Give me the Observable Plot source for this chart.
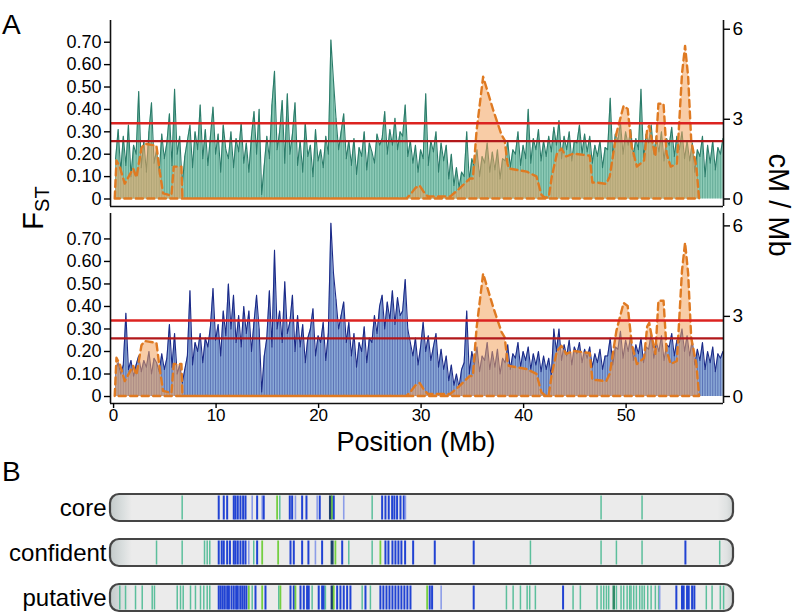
<!DOCTYPE html>
<html><head><meta charset="utf-8">
<script src="https://cdn.jsdelivr.net/npm/d3@7"></script>
<script src="https://cdn.jsdelivr.net/npm/@observablehq/plot@0.6"></script>
<style>
body{margin:0;background:#fff;}
#page{position:relative;width:796px;height:614px;overflow:hidden;font-family:"Liberation Sans",Arial,sans-serif;}
#page > svg{position:absolute;left:0;margin:0;}
</style></head><body><div id="page"></div>
<script>
// ---------- data ----------
const fstStart = 0.2, fstStep = 0.25;   // Mb grid of the FST windows
const fstTop = [0.18,0.31,0.12,0.28, 0.15,0.33,0.10,0.24, 0.20,0.48,0.14,0.26, 0.12,0.30,0.43,0.16, 0.22,0.11,0.29,0.18, 0.25,0.38,0.15,0.49, 0.20,0.28,0.06,0.19, 0.26,0.33,0.14,0.30, 0.22,0.42,0.18,0.31, 0.15,0.28,0.41,0.20,
 0.29,0.12,0.33,0.22, 0.18,0.30,0.14,0.27, 0.21,0.34,0.16,0.25, 0.12,0.28,0.39,0.20, 0.40,0.02,0.15,0.28, 0.18,0.42,0.57,0.22, 0.30,0.44,0.16,0.47, 0.20,0.29,0.43,0.15, 0.26,0.12,0.34,0.19, 0.24,0.10,0.31,0.17,
 0.22,0.14,0.28,0.20, 0.71,0.53,0.36,0.22, 0.30,0.38,0.18,0.26, 0.15,0.27,0.11,0.23, 0.19,0.30,0.13,0.25, 0.21,0.16,0.29,0.24, 0.27,0.39,0.20,0.31, 0.24,0.36,0.22,0.30, 0.28,0.42,0.19,0.26, 0.16,0.24,0.12,0.22,
 0.18,0.47,0.15,0.26, 0.21,0.30,0.12,0.25, 0.17,0.24,0.09,0.20, 0.06,0.14,0.05,0.12, 0.10,0.30,0.08,0.18, 0.14,0.22,0.10,0.19, 0.16,0.25,0.12,0.21, 0.13,0.22,0.09,0.18, 0.17,0.26,0.14,0.22, 0.20,0.30,0.15,0.24,
 0.18,0.40,0.16,0.27, 0.22,0.31,0.17,0.26, 0.19,0.28,0.21,0.32, 0.24,0.35,0.18,0.28, 0.22,0.30,0.17,0.26, 0.25,0.33,0.20,0.29, 0.21,0.28,0.16,0.24, 0.19,0.26,0.14,0.23, 0.22,0.45,0.18,0.29, 0.26,0.34,0.20,0.30,
 0.24,0.31,0.19,0.27, 0.22,0.49,0.18,0.29, 0.25,0.33,0.20,0.28, 0.21,0.30,0.17,0.27, 0.24,0.32,0.19,0.28, 0.22,0.30,0.18,0.26, 0.17,0.25,0.12,0.22, 0.19,0.28,0.10,0.24, 0.16,0.26,0.13,0.23, 0.20,0.27];
const fstBottom = [0.12,0.15,0.10,0.14, 0.37,0.12,0.16,0.09, 0.14,0.18,0.11,0.16, 0.13,0.20,0.10,0.17, 0.15,0.11,0.19,0.12, 0.17,0.32,0.13,0.28, 0.10,0.14,0.06,0.12, 0.18,0.47,0.14,0.24, 0.20,0.28,0.15,0.26, 0.22,0.31,0.48,0.25,
 0.32,0.18,0.38,0.27, 0.50,0.30,0.45,0.24, 0.36,0.22,0.40,0.28, 0.38,0.20,0.33,0.45, 0.30,0.02,0.18,0.26, 0.47,0.22,0.65,0.30, 0.38,0.24,0.51,0.28, 0.33,0.45,0.20,0.36, 0.22,0.32,0.15,0.26, 0.30,0.39,0.18,0.27,
 0.24,0.33,0.16,0.28, 0.77,0.55,0.43,0.30, 0.36,0.42,0.24,0.33, 0.18,0.28,0.13,0.24, 0.20,0.31,0.15,0.26, 0.24,0.36,0.28,0.40, 0.45,0.30,0.42,0.34, 0.47,0.32,0.44,0.36, 0.38,0.52,0.30,0.24, 0.18,0.26,0.14,0.22,
 0.33,0.20,0.27,0.16, 0.22,0.28,0.13,0.21, 0.12,0.18,0.07,0.14, 0.05,0.10,0.04,0.12, 0.15,0.38,0.10,0.20, 0.14,0.22,0.11,0.18, 0.16,0.24,0.12,0.20, 0.13,0.21,0.10,0.17, 0.15,0.23,0.12,0.19, 0.17,0.24,0.13,0.20,
 0.16,0.22,0.12,0.19, 0.14,0.20,0.11,0.18, 0.12,0.17,0.09,0.30, 0.20,0.30,0.16,0.23, 0.18,0.25,0.14,0.22, 0.19,0.24,0.15,0.21, 0.17,0.22,0.13,0.19, 0.15,0.21,0.12,0.18, 0.18,0.26,0.14,0.22, 0.21,0.29,0.17,0.25,
 0.20,0.27,0.16,0.23, 0.19,0.26,0.15,0.22, 0.21,0.28,0.17,0.24, 0.20,0.27,0.16,0.23, 0.22,0.28,0.18,0.25, 0.24,0.30,0.20,0.27, 0.18,0.25,0.14,0.21, 0.16,0.24,0.12,0.20, 0.15,0.22,0.11,0.19, 0.17,0.20];
const recPos = [0.16,0.33,0.65,1.14,1.96,2.28,2.77,3.09,4.23,4.56, 4.88,5.69,5.92,6.67,6.77,28.6,29.0,29.5,29.9,30.3,
 30.7,32.9,33.8,34.8,35.1,35.46,36.1,37.1,37.9,38.2, 38.48,38.6,40.36,41.3,41.8,42.1,42.5,42.8,43.3,43.74,
 44.2,44.9,46.5,46.76,47.2,48.1,48.45,49.1,49.8,50.2, 50.6,51.1,51.8,52.1,52.3,52.5,52.9,53.2,53.7,54.0, 54.4,55.0,55.5,55.8,56.1,56.4,56.9,57.17];
const recCM = [0,1.43,1.2,0.56,1.13,0.79,1.9,2.06,1.99,1.0, 0.19,0.11,1.2,1.2,0,0,0.15,0.4,0.49,0.25,
 0.08,0.08,0.38,0.75,0.75,2.55,4.4,3.27,2.39,2.2, 1.31,1.13,1.01,0.83,0.13,0.04,0.04,0.83,1.69,1.88,
 1.58,1.69,1.61,0.6,0.6,0.55,0.83,2.44,3.43,3.33, 1.95,1.2,1.43,2.6,2.74,2.33,1.58,3.5,3.5,1.69, 1.2,1.31,4.5,5.43,4.4,2.18,1.2,0];
const fstTicks = [0,0.1,0.2,0.3,0.4,0.5,0.6,0.7];
const cmTicks = [0,3,6];
const cmTickFst = [0,0.356,0.758];      // where each cM/Mb tick sits on the FST axis
const xTicks = [0,10,20,30,40,50];
const thresholds = [0.338,0.258];
const xDomain = [-0.3,59.5];
const rowNames = ["core","confident","putative"];
const chromLength = 60.5;
const coreStripes = [[6.96,"t"],[10.51,"b"],[11.0,"b"],[11.33,"b"],[11.97,"b"],[12.14,"b"],[12.36,"b"],[12.62,"b"],[12.88,"b"],[13.11,"b"],[13.76,"l"],[14.24,"b"],[14.73,"l"],[14.88,"b"],[16.18,"g"],[16.44,"t"],[17.41,"b"],[17.64,"b"],[17.96,"l"],[18.61,"b"],[19.03,"b"],[20.07,"l"],[20.32,"b"],[21.36,"n"],[21.52,"g"],[21.68,"b"],[22.65,"l"],[25.41,"t"],[26.38,"b"],[26.7,"b"],[27.02,"b"],[27.35,"b"],[27.57,"b"],[27.83,"b"],[28.16,"b"],[28.48,"b"],[28.64,"l"],[47.64,"t"],[51.62,"t"]];
const confidentStripes = [[4.47,"t"],[6.96,"t"],[9.13,"t"],[9.39,"t"],[9.64,"t"],[10.51,"b"],[10.8,"b"],[11.0,"b"],[11.33,"b"],[11.6,"b"],[11.97,"b"],[12.14,"b"],[12.36,"b"],[12.62,"b"],[12.88,"b"],[13.11,"b"],[13.43,"l"],[13.91,"t"],[14.24,"b"],[14.73,"g"],[16.28,"g"],[17.48,"b"],[17.8,"b"],[18.61,"b"],[19.22,"b"],[19.9,"l"],[20.55,"b"],[21.52,"n"],[21.84,"g"],[22.5,"b"],[23.14,"t"],[25.41,"t"],[26.21,"g"],[26.7,"b"],[26.99,"b"],[27.38,"b"],[27.67,"b"],[27.96,"b"],[28.25,"b"],[28.61,"b"],[29.39,"b"],[31.49,"b"],[35.27,"b"],[40.78,"t"],[47.64,"t"],[49.13,"t"],[51.62,"t"],[55.83,"b"],[59.16,"t"]];
const putativeStripes = [[0.9,"t"],[1.46,"t"],[2.43,"t"],[3.08,"t"],[4.05,"t"],[4.27,"t"],[6.48,"t"],[6.8,"t"],[7.06,"t"],[7.77,"t"],[8.25,"t"],[8.74,"t"],[9.06,"t"],[9.39,"t"],[9.64,"t"],
 [10.51,"b"],[10.7,"b"],[10.9,"b"],[11.1,"b"],[11.33,"b"],[11.5,"b"],[11.75,"b"],[11.97,"b"],[12.2,"b"],[12.36,"b"],[12.6,"b"],[12.8,"b"],[13.0,"b"],[13.2,"b"],
 [13.43,"g"],[13.76,"t"],[14.08,"b"],[14.73,"g"],[15.05,"b"],[16.34,"t"],[16.5,"g"],[17.48,"b"],[17.8,"b"],[17.96,"g"],[18.45,"b"],[18.77,"b"],[19.09,"b"],[19.25,"b"],[19.58,"t"],[20.22,"b"],[20.55,"b"],[20.71,"b"],[20.87,"t"],[21.52,"n"],[21.68,"g"],[22.01,"b"],[22.33,"b"],[22.65,"b"],[22.98,"b"],[23.3,"b"],[24.44,"t"],[24.76,"b"],[25.24,"t"],
 [26.21,"b"],[26.5,"b"],[26.8,"b"],[27.09,"b"],[27.38,"b"],[27.67,"b"],[27.96,"b"],[28.25,"b"],[28.54,"b"],[28.83,"b"],[29.13,"b"],
 [30.75,"g"],[31.0,"b"],[31.23,"b"],[32.11,"l"],[35.27,"b"],[38.45,"t"],[39.1,"t"],[39.81,"t"],[40.46,"t"],[40.71,"t"],[41.26,"t"],[43.95,"b"],[44.92,"t"],[45.63,"t"],[47.25,"t"],
 [47.64,"t"],[47.9,"t"],[48.16,"t"],[48.38,"t"],[48.87,"d"],[49.13,"t"],[49.58,"t"],[49.84,"t"],[50.17,"t"],[50.42,"t"],[50.55,"t"],[50.81,"t"],[51.07,"t"],[51.39,"t"],[51.62,"t"],[51.84,"t"],[52.17,"t"],[52.5,"t"],[52.91,"t"],[53.23,"t"],[53.33,"l"],
 [54.95,"b"],[55.5,"b"],[55.66,"b"],[55.99,"b"],[56.15,"b"],[56.48,"b"],[56.7,"b"],[57.86,"t"],[58.42,"t"],[59.22,"t"],[59.54,"t"]];
const stripeKinds = ["t","b","l","g","n","d"];
const stripeColors = ["#5cbf9c","#2143d3","#8c9de8","#74cf41","#1c3f6e","#2f8a66"];
const stripeWidths = [1.5,2,1.6,1.8,3,2.5];

// ---------- drawing ----------
const page = document.getElementById("page");
const FONT = '"Liberation Sans", Arial, Helvetica, sans-serif';
const cmToFst = d3.scaleLinear().domain(cmTicks).range(cmTickFst);
const rec = recPos.map((p, i) => ({pos: p, y: cmToFst(recCM[i])}));

function panel({fst, fill, stroke, lineWidth, top, height, marginTop, marginBottom, yDomain, withX}) {
  const data = fst.map((v, i) => ({pos: fstStart + i * fstStep, fst: v}));
  const marks = [
    Plot.areaY(data, {x: "pos", y: "fst", fill}),
    Plot.ruleX(data, {x: "pos", y1: 0, y2: "fst", stroke, strokeWidth: 0.7, strokeOpacity: 0.6}),
    Plot.lineY(data, {x: "pos", y: "fst", stroke, strokeWidth: lineWidth}),
    Plot.areaY(rec, {x: "pos", y: "y", fill: "#f2a35c", fillOpacity: 0.55, stroke: "#df7a22", strokeWidth: 2.4, strokeDasharray: "7,4.5"}),
    Plot.ruleY([thresholds[0]], {stroke: "#dc2320", strokeWidth: 2.6}),
    Plot.ruleY([thresholds[1]], {stroke: "#b2181b", strokeWidth: 2.2}),
    Plot.ruleX([xDomain[0], xDomain[1]], {y1: yDomain[0], y2: yDomain[1], stroke: "#111", strokeWidth: 1.6}),
    Plot.ruleY([yDomain[0]], {x1: xDomain[0], x2: xDomain[1], stroke: "#111", strokeWidth: 1.6}),
    Plot.axisY(fstTicks, {anchor: "left", label: null, tickSize: 6, tickPadding: 3, fontSize: 18, strokeWidth: 1.4,
      tickFormat: d => d === 0 ? "0" : d.toFixed(2)}),
    Plot.axisY(cmTickFst, {anchor: "right", label: null, tickSize: 6, tickPadding: 3, fontSize: 19, strokeWidth: 1.4,
      tickFormat: d => String(cmTicks[cmTickFst.indexOf(d)])})
  ];
  if (withX) marks.push(Plot.axisX(xTicks, {anchor: "bottom", label: null, tickSize: 5, tickPadding: 0, fontSize: 17, strokeWidth: 1.4, tickFormat: d => String(d)}));
  const svg = Plot.plot({
    width: 796, height, marginLeft: 110, marginRight: 73, marginTop, marginBottom,
    x: {domain: xDomain, axis: null},
    y: {domain: yDomain, axis: null},
    style: {fontFamily: FONT, color: "#000", background: "transparent", overflow: "visible"},
    marks
  });
  svg.style.top = top + "px";
  page.appendChild(svg);
}

panel({fst: fstTop, fill: "#8dcbb7", stroke: "#2b7c6a", lineWidth: 1.1, top: 0, height: 210, marginTop: 20, marginBottom: 4, yDomain: [-0.0335, 0.797], withX: false});
panel({fst: fstBottom, fill: "#8aa8d6", stroke: "#1b2a88", lineWidth: 1.1, top: 205, height: 240, marginTop: 8, marginBottom: 42, yDomain: [-0.031, 0.813], withX: true});

// chromosome panel (B)
const chrom = rowNames.map(r => ({row: r, start: 0, end: chromLength}));
const stripes = [
  ...coreStripes.map(([p, k]) => ({row: "core", pos: p, kind: k})),
  ...confidentStripes.map(([p, k]) => ({row: "confident", pos: p, kind: k})),
  ...putativeStripes.map(([p, k]) => ({row: "putative", pos: p, kind: k}))
];
const gradientDefs = () => {
  const ns = "http://www.w3.org/2000/svg";
  const defs = document.createElementNS(ns, "defs");
  const g = document.createElementNS(ns, "linearGradient");
  g.setAttribute("id", "chromFill");
  g.setAttribute("x1", "0"); g.setAttribute("x2", "1"); g.setAttribute("y1", "0"); g.setAttribute("y2", "0");
  [["0", "#c3caca"], ["0.02", "#d9dede"], ["0.035", "#ebebeb"], ["0.975", "#ebebeb"], ["0.99", "#dfe2e2"], ["1", "#ccd1d1"]].forEach(([o, c]) => {
    const s = document.createElementNS(ns, "stop");
    s.setAttribute("offset", o); s.setAttribute("stop-color", c);
    g.appendChild(s);
  });
  defs.appendChild(g);
  return defs;
};
const chromSvg = Plot.plot({
  width: 796, height: 129, marginLeft: 110, marginRight: 63, marginTop: 8, marginBottom: 1.5,
  x: {domain: [0, chromLength], axis: null},
  y: {domain: rowNames, paddingInner: 0.4, paddingOuter: 0, axis: null},
  color: {domain: stripeKinds, range: stripeColors},
  style: {fontFamily: FONT, color: "#000", background: "transparent", overflow: "visible"},
  marks: [
    gradientDefs,
    Plot.barX(chrom, {x1: "start", x2: "end", y: "row", fill: "url(#chromFill)", rx: 9}),
    Plot.tickX(stripes, {x: "pos", y: "row", stroke: "kind", strokeWidth: d => stripeWidths[stripeKinds.indexOf(d.kind)], insetTop: 1.5, insetBottom: 1.5}),
    Plot.barX(chrom, {x1: "start", x2: "end", y: "row", fill: "none", stroke: "#454545", strokeWidth: 2.2, rx: 9}),
    Plot.axisY({anchor: "left", label: null, tickSize: 0, tickPadding: 4, fontSize: 24})
  ]
});
chromSvg.style.top = "485px";
page.appendChild(chromSvg);

// titles / labels
const ns = "http://www.w3.org/2000/svg";
const lab = document.createElementNS(ns, "svg");
lab.setAttribute("width", 796); lab.setAttribute("height", 614);
lab.style.top = "0px"; lab.style.pointerEvents = "none";
lab.setAttribute("font-family", FONT);
lab.innerHTML = `
  <text x="2" y="34" font-size="28">A</text>
  <text x="2" y="481" font-size="28">B</text>
  <text x="416" y="451" font-size="27" text-anchor="middle">Position (Mb)</text>
  <text transform="translate(43,208) rotate(-90)" font-size="29" text-anchor="middle">F<tspan font-size="20" dy="6">ST</tspan></text>
  <text transform="translate(769,205) rotate(90)" font-size="29" text-anchor="middle">cM / Mb</text>`;
page.appendChild(lab);
</script></body></html>
